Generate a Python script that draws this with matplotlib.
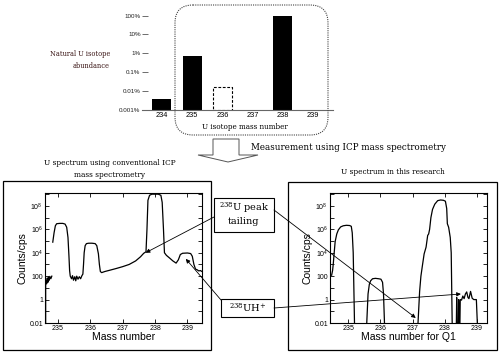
import matplotlib.pyplot as plt
import numpy as np
from matplotlib.patches import Rectangle, FancyBboxPatch, Polygon
from matplotlib.ticker import NullFormatter, NullLocator

# natural isotope abundance (%), 237/239 have no bar
iso_mass = [234, 235, 236, 238]
iso_abund = [0.004, 0.72, 0.016, 99.3]
iso_dashed = [False, False, True, False]
iso_ticks = [234, 235, 236, 237, 238, 239]
abund_ticks = [1e2, 1e1, 1, 1e-1, 1e-2, 1e-3]
abund_labels = ['100%', '10%', '1%', '0.1%', '0.01%', '0.001%']

# conventional ICP-MS spectrum (nan = gap in trace)
conv_mass = [234.62, 234.62, 234.63, 234.65, 234.67, 234.69, 234.71, 234.73, 234.75, 234.78, 234.81,
             np.nan,
             234.84, 234.88, 234.92, 234.96, 235.05, 235.15, 235.22, 235.27, 235.31, 235.34, 235.36, 235.38,
             235.42, 235.45, 235.48, 235.52, 235.55, 235.58, 235.62, 235.66, 235.70, 235.74, 235.77,
             235.79, 235.81, 235.84, 235.88, 235.95, 236.05, 236.15, 236.20, 236.25, 236.28, 236.31,
             236.35, 236.45, 236.60, 236.80, 237.00, 237.20, 237.40, 237.55, 237.65, 237.72,
             237.75, 237.78, 237.83, 237.90, 238.10, 238.18, 238.22, 238.26, 238.29,
             238.35, 238.45, 238.55, 238.65, 238.72, 238.78, 238.85, 239.00, 239.10, 239.15, 239.20,
             239.25, 239.30, 239.35, 239.40, 239.45]
conv_cps = [0.01, 30, 45, 22, 70, 30, 85, 45, 95, 60, 100,
            np.nan,
            8e4, 5e5, 2e6, 3e6, 3.2e6, 3.2e6, 2.8e6, 1.5e6, 2e5, 5e3, 300, 100,
            60, 110, 45, 90, 40, 100, 55, 90, 60, 110, 150,
            1e3, 1e4, 4e4, 6e4, 6.5e4, 6.5e4, 6e4, 4e4, 8e3, 1e3, 250,
            200, 250, 320, 450, 650, 1000, 2000, 4500, 9000, 1.2e4,
            1e6, 3e8, 8e8, 1e9, 1e9, 8e8, 2e8, 1e6, 1e4,
            6000, 3500, 2000, 1300, 2500, 7000, 9000, 9500, 8500, 5000, 1000,
            400, 350, 280, 300, 250]

# spectrum in this research (Q1 mass)
new_mass = [234.49, 234.52, 234.54, 234.57, 234.60, 234.65, 234.70, 234.77, 234.85, 234.95, 235.05,
            235.10, 235.13, 235.16, 235.18, 235.20,
            np.nan,
            235.58, 235.62, 235.66, 235.70, 235.76, 235.85, 235.95, 236.02, 236.07, 236.10, 236.13,
            np.nan,
            237.17, 237.22, 237.26, 237.30, 237.36, 237.42, 237.47, 237.50, 237.53, 237.57, 237.62,
            237.69, 237.78, 237.87, 237.96, 238.02, 238.06, 238.08, 238.12, 238.17, 238.20, 238.23,
            np.nan,
            238.36, 238.37, 238.38, 238.42, 238.43, 238.45, 238.47, 238.48, 238.52, 238.56, 238.60,
            238.64, 238.68, 238.72, 238.75, 238.80, 238.85, 238.90, 238.98, 239.01]
new_cps = [120, 300, 1e3, 1e4, 9e4, 4e5, 9e5, 1.6e6, 2.0e6, 2.2e6, 2.1e6,
           1.8e6, 5e5, 1e4, 10, 0.01,
           np.nan,
           0.01, 3, 20, 40, 60, 65, 60, 55, 30, 3, 0.01,
           np.nan,
           0.01, 5, 100, 600, 8e3, 3e4, 3e5, 4e5, 1e6, 1e7, 5e7,
           1.4e8, 2.8e8, 3.2e8, 3e8, 2.5e8, 6e7, 3e6, 1.5e6, 2e5, 1e4, 0.01,
           np.nan,
           0.01, 1.5, 0.01, 0.01, 1.0, 0.01, 0.01, 1, 0.9, 2, 1.2,
           3, 4.5, 1.5, 1.2, 5, 1.3, 1.0, 1.0, 0.01]

cps_ticks = [1e-2, 1, 1e2, 1e4, 1e6, 1e8]
cps_labels = ['0.01', '1', '100', r'$\mathregular{10^4}$', r'$\mathregular{10^6}$', r'$\mathregular{10^8}$']

W, H = 500, 355
SERIF = 'DejaVu Serif'
SANS = 'Liberation Sans'


def px_axes(fig, x0, y0, x1, y1, **kw):
    # axes from pixel box (top-left origin)
    return fig.add_axes([x0 / W, 1 - y1 / H, (x1 - x0) / W, (y1 - y0) / H], **kw)


fig = plt.figure(figsize=(5, 3.55), dpi=100)

# --- top: isotope abundance bars ---
axt = px_axes(fig, 142, 8, 333, 110)
for m, a, d in zip(iso_mass, iso_abund, iso_dashed):
    if d:
        axt.bar(m, a - 1e-3, bottom=1e-3, width=0.63, color='white', edgecolor='black', lw=0.8, ls=(0, (2.5, 1.5)))
    else:
        axt.bar(m, a - 1e-3, bottom=1e-3, width=0.63, color='black')
axt.set_yscale('log')
axt.set_ylim(1e-3, 250)
axt.set_xlim(233.34, 239.66)
axt.set_yticks(abund_ticks)
axt.set_yticklabels(abund_labels, fontsize=4.5, family=SANS, color='#222')
axt.minorticks_off()
axt.set_xticks(iso_ticks)
axt.set_xticklabels([str(t) for t in iso_ticks], fontsize=5.3, family=SANS)
axt.tick_params(axis='x', length=0, pad=1.5)
axt.tick_params(axis='y', direction='in', length=4, width=0.6, color='#555', pad=1)
for s in ['top', 'right', 'left']:
    axt.spines[s].set_visible(False)
axt.spines['bottom'].set_color('#666')
axt.spines['bottom'].set_linewidth(0.8)
axt.patch.set_alpha(0)


# --- bottom spectra ---
def spectrum(ax, mass, cps, xlim, xlabel):
    ax.plot(mass, cps, color='black', lw=0.9)
    ax.set_yscale('log')
    ax.set_ylim(1e-2, 1.26e9)
    ax.set_xlim(*xlim)
    ax.set_xticks([235, 236, 237, 238, 239])
    ax.set_xticklabels(['235', '236', '237', '238', '239'], fontsize=5, family=SANS)
    ax.xaxis.set_minor_locator(NullLocator())
    ax.set_yticks(cps_ticks)
    ax.set_yticklabels(cps_labels, fontsize=5, family=SANS)
    ax.set_yticks([1e-1, 1e1, 1e3, 1e5, 1e7, 1e9], minor=True)
    ax.yaxis.set_minor_formatter(NullFormatter())
    ax.tick_params(which='both', direction='in', top=True, right=True, length=3, width=0.6, pad=1.5)
    for s in ax.spines.values():
        s.set_linewidth(0.8)
    ax.set_xlabel(xlabel, fontsize=7.5, family=SANS, labelpad=0)
    ax.set_ylabel('Counts/cps', fontsize=7.5, family=SANS, labelpad=1)


axl = px_axes(fig, 45, 193, 202, 323)
spectrum(axl, conv_mass, conv_cps, (234.6, 239.45), 'Mass number')
axr = px_axes(fig, 330, 193, 487, 323)
spectrum(axr, new_mass, new_cps, (234.44, 239.31), 'Mass number for Q1')

# --- overlay in pixel coordinates ---
ov = fig.add_axes([0, 0, 1, 1], zorder=10)
ov.set_xlim(0, W)
ov.set_ylim(H, 0)
ov.axis('off')

ov.add_patch(FancyBboxPatch((175, 5), 153, 130, boxstyle='round,pad=0,rounding_size=18',
                            fc='none', ec='#444', lw=0.8, ls=(0, (1, 1))))
ov.text(110, 54, 'Natural U isotope', ha='right', va='center', fontsize=4.8, family=SERIF, color='#3a1515')
ov.text(110, 66, 'abundance', ha='right', va='center', fontsize=4.8, family=SERIF, color='#3a1515')
ov.text(245, 127, 'U isotope mass number', ha='center', va='center', fontsize=5.2, family=SERIF)

ov.add_patch(Polygon([(213, 139), (239, 139), (239, 155), (258, 155), (228, 162), (198, 155), (213, 155)],
                     closed=True, fc='white', ec='#555', lw=0.7))
ov.text(251, 147, 'Measurement using ICP mass spectrometry', ha='left', va='center', fontsize=6.3, family=SERIF)

ov.text(110, 163, 'U spectrum using conventional ICP', ha='center', va='center', fontsize=5.3, family=SERIF)
ov.text(110, 175, 'mass spectrometry', ha='center', va='center', fontsize=5.3, family=SERIF)
ov.text(393, 172, 'U spectrum in this research', ha='center', va='center', fontsize=5.3, family=SERIF)

ov.add_patch(Rectangle((3, 181), 208, 169, fc='none', ec='black', lw=0.9))
ov.add_patch(Rectangle((288, 182), 209, 168, fc='none', ec='black', lw=0.9))

ov.add_patch(Rectangle((214, 198), 60, 34, fc='white', ec='black', lw=0.8))
ov.text(244, 208, r'$\mathregular{^{238}}$U peak', ha='center', va='center', fontsize=7, family=SERIF)
ov.text(244, 222, 'tailing', ha='center', va='center', fontsize=7, family=SERIF)
ov.add_patch(Rectangle((221, 299), 53, 18, fc='white', ec='black', lw=0.8))
ov.text(247.5, 308, r'$\mathregular{^{238}}$UH$\mathregular{^{+}}$', ha='center', va='center', fontsize=7, family=SERIF)

arrow = dict(arrowstyle='-|>', color='black', lw=0.6, mutation_scale=6, shrinkA=0, shrinkB=0)
ov.annotate('', xy=(237.71, 1e4), xycoords=axl.transData, xytext=(214, 217), textcoords='data', arrowprops=arrow)
ov.annotate('', xy=(237.10, 0.027), xycoords=axr.transData, xytext=(274, 210), textcoords='data', arrowprops=arrow)
ov.annotate('', xy=(238.95, 3e3), xycoords=axl.transData, xytext=(221, 300), textcoords='data', arrowprops=arrow)
ov.annotate('', xy=(238.50, 3), xycoords=axr.transData, xytext=(274, 308), textcoords='data', arrowprops=arrow)

fig.savefig('out.png', dpi=100)
